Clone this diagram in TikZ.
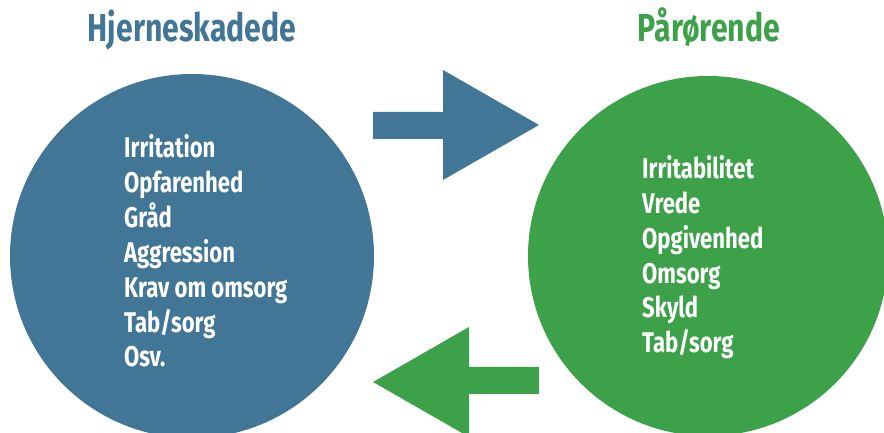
\documentclass[tikz,border=0pt]{standalone}
\usepackage{fontspec}
\setmainfont[FakeStretch=0.775]{Fira Sans}
\usepackage{tikz}

\definecolor{skadeblue}{RGB}{66,118,150}
\definecolor{paagreen}{RGB}{60,161,73}

\tikzset{
    title/.style={font=\bfseries\fontsize{39}{39}\selectfont, anchor=base},
    item/.style={font=\bfseries\fontsize{28.5}{28.5}\selectfont, text=white, anchor=base west, inner sep=0pt},
}

\begin{document}
\begin{tikzpicture}[x=1pt, y=1pt]
        \useasboundingbox (0,0) rectangle (884,433);
        \clip (0,0) rectangle (884,433);

        % the two circles
        \fill[skadeblue] (192,177) circle (182);
        \fill[paagreen] (708,177) circle (180);

        % block arrows between them
        \fill[skadeblue] (373,294) -- (443,294) -- (443,253) -- (539,308)
            -- (443,363) -- (443,321) -- (373,321) -- cycle;
        \fill[paagreen] (539,39) -- (469,39) -- (469,-4) -- (373,51)
            -- (469,106) -- (469,66) -- (539,66) -- cycle;

        \node[title, text=skadeblue] (hs) at (192,391) {Hjerneskadede};
        \node[title, text=paagreen] (pr) at (709,391) {Pårørende};

        \node[item] (h1) at (124,275) {Irritation};
        \node[item] (h2) at (124,240) {Opfarenhed};
        \node[item] (h3) at (124,205) {Gråd};
        \node[item] (h4) at (124,170) {Aggression};
        \node[item] (h5) at (124,135) {Krav om omsorg};
        \node[item] (h6) at (124,100) {Tab/sorg};
        \node[item] (h7) at (124,66) {Osv.};

        \node[item] (p1) at (642,254) {Irritabilitet};
        \node[item] (p2) at (642,219) {Vrede};
        \node[item] (p3) at (642,184) {Opgivenhed};
        \node[item] (p4) at (642,149) {Omsorg};
        \node[item] (p5) at (642,115) {Skyld};
        \node[item] (p6) at (642,80) {Tab/sorg};

    \end{tikzpicture}
\end{document}
